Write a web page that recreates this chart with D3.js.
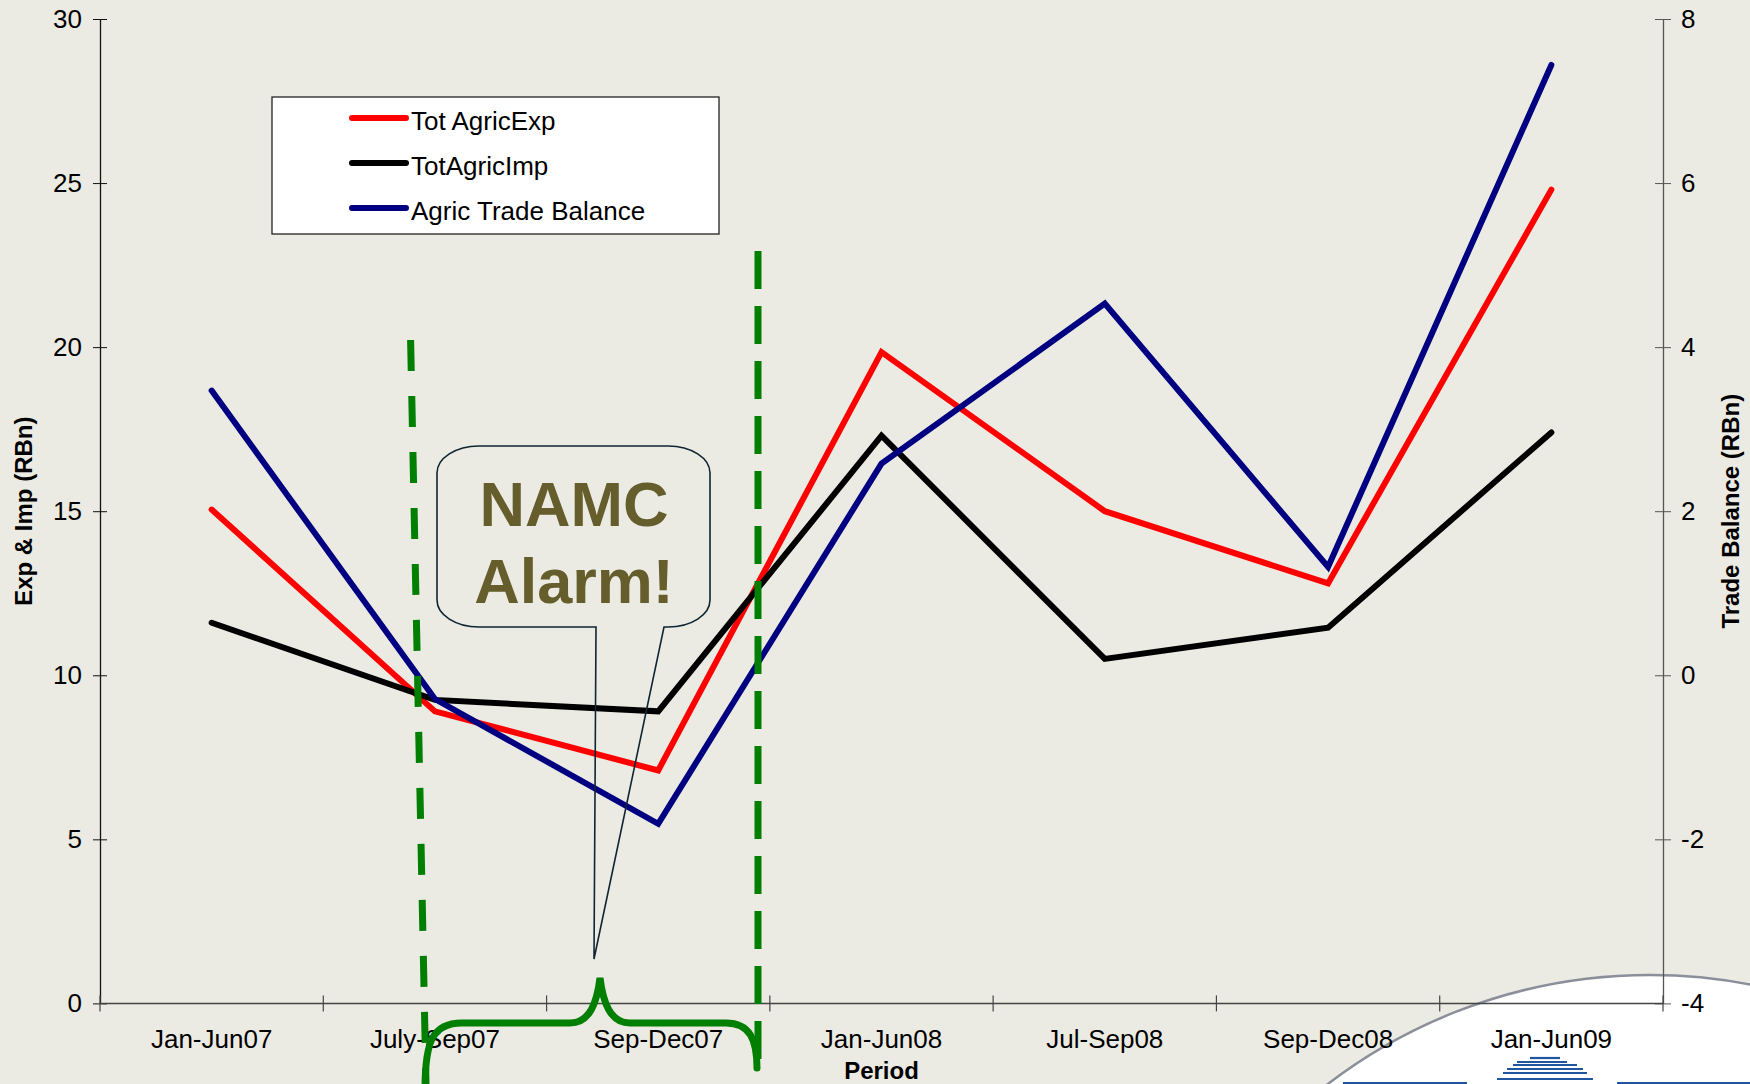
<!DOCTYPE html>
<html>
<head>
<meta charset="utf-8">
<script src="https://cdn.jsdelivr.net/npm/d3@7"></script>
<style>
  body { margin: 0; background: #ebebe3; }
  svg { display: block; font-family: "Liberation Sans", Arial, sans-serif; }
</style>
</head>
<body>
<svg id="chart" width="1750" height="1084"></svg>
<script>
// data
const periods = ["Jan-Jun07", "July-Sep07", "Sep-Dec07", "Jan-Jun08", "Jul-Sep08", "Sep-Dec08", "Jan-Jun09"];
const agricExp = [15.05, 8.9, 7.1, 19.85, 15.0, 12.8, 24.8];
const agricImp = [11.6, 9.25, 8.9, 17.3, 10.5, 11.45, 17.4];
const tradeBalance = [3.47, -0.29, -1.81, 2.58, 4.53, 1.32, 7.44];
const leftTicks = [0, 5, 10, 15, 20, 25, 30];
const rightTicks = [-4, -2, 0, 2, 4, 6, 8];
const seriesNames = ["Tot AgricExp", "TotAgricImp", "Agric Trade Balance"];
const seriesColors = ["#ff0000", "#000000", "#000080"];

const svg = d3.select("#chart");
const W = 1750, H = 1084;
const plotL = 100, plotR = 1663, plotT = 19, plotB = 1003.4;
const fs = 26;

svg.append("rect").attr("width", W).attr("height", H).attr("fill", "#ebebe3");

// scales
const x = d3.scaleBand().domain(periods).range([plotL, plotR]);
const cx = d => x(d) + x.bandwidth() / 2;
const y = d3.scaleLinear().domain([0, 30]).range([plotB, plotT]);
const y2 = d3.scaleLinear().domain([-4, 8]).range([plotB, plotT]);

// logo backdrop in the corner
const logo = svg.append("g");
logo.append("circle")
    .attr("cx", 1650).attr("cy", 1505).attr("r", 530)
    .attr("fill", "#ffffff").attr("stroke", "#8a8f9a").attr("stroke-width", 2.5);
const stripes = [[1058, 1530, 1560], [1062, 1517, 1567], [1065, 1513, 1577], [1069, 1507, 1583], [1073, 1503, 1587], [1079, 1497, 1593]];
logo.selectAll("line.stripe").data(stripes).enter().append("line")
    .attr("x1", d => d[1]).attr("x2", d => d[2])
    .attr("y1", d => d[0]).attr("y2", d => d[0])
    .attr("stroke", "#1f56a0").attr("stroke-width", 2.2);
logo.append("rect").attr("x", 1343).attr("y", 1082).attr("width", 124).attr("height", 4).attr("fill", "#1f56a0");
logo.append("rect").attr("x", 1617).attr("y", 1082).attr("width", 133).attr("height", 4).attr("fill", "#1f56a0");

// left axis
const axisL = svg.append("g").attr("transform", `translate(${plotL},0)`)
    .call(d3.axisLeft(y).tickValues(leftTicks).tickSize(7).tickSizeOuter(0).tickPadding(11).tickFormat(d => String(d)));
axisL.select(".domain").attr("stroke", "#111").attr("stroke-width", 1.3);
axisL.selectAll(".tick line").attr("x1", 7).attr("stroke", "#111");
axisL.selectAll("text").attr("font-size", fs).attr("fill", "#000").attr("font-family", "Liberation Sans, Arial");

// right axis
const axisR = svg.append("g").attr("transform", `translate(${plotR},0)`)
    .call(d3.axisRight(y2).tickValues(rightTicks).tickSize(8).tickSizeOuter(0).tickPadding(10).tickFormat(d => String(d)));
axisR.select(".domain").attr("stroke", "#555").attr("stroke-width", 1.3);
axisR.selectAll(".tick line").attr("x1", -8).attr("stroke", "#555");
axisR.selectAll("text").attr("font-size", fs).attr("fill", "#000").attr("font-family", "Liberation Sans, Arial");

// x axis
const axisX = svg.append("g").attr("transform", `translate(0,${plotB})`)
    .call(d3.axisBottom(x).tickSize(0).tickPadding(26));
axisX.select(".domain").remove();
axisX.selectAll("text").attr("font-size", fs).attr("fill", "#000").attr("font-family", "Liberation Sans, Arial");
axisX.append("line").attr("x1", plotL).attr("x2", plotR).attr("stroke", "#444").attr("stroke-width", 1.5);
axisX.selectAll("line.bound")
    .data(periods.map(p => x(p)).concat([plotR])).enter()
    .append("line").attr("class", "bound")
    .attr("x1", d => d).attr("x2", d => d)
    .attr("y1", -8).attr("y2", 8)
    .attr("stroke", "#444").attr("stroke-width", 1.2);

// axis titles
svg.append("text").attr("x", (plotL + plotR) / 2).attr("y", 1079)
    .attr("text-anchor", "middle").attr("font-weight", "bold").attr("font-size", 24).text("Period");
svg.append("text").attr("transform", `translate(32,${(plotT + plotB) / 2}) rotate(-90)`)
    .attr("text-anchor", "middle").attr("font-weight", "bold").attr("font-size", 24).text("Exp & Imp (RBn)");
svg.append("text").attr("transform", `translate(1739,${(plotT + plotB) / 2}) rotate(-90)`)
    .attr("text-anchor", "middle").attr("font-weight", "bold").attr("font-size", 24).text("Trade Balance (RBn)");

// series lines
const lineL = d3.line().x((d, i) => cx(periods[i])).y(d => y(d));
const lineR = d3.line().x((d, i) => cx(periods[i])).y(d => y2(d));
const series = [
  {vals: agricExp, gen: lineL, color: seriesColors[0]},
  {vals: agricImp, gen: lineL, color: seriesColors[1]},
  {vals: tradeBalance, gen: lineR, color: seriesColors[2]}
];
svg.append("g").selectAll("path").data(series).enter().append("path")
    .attr("d", d => d.gen(d.vals))
    .attr("fill", "none")
    .attr("stroke", d => d.color)
    .attr("stroke-width", 6)
    .attr("stroke-linejoin", "miter")
    .attr("stroke-linecap", "round");

// legend
const leg = svg.append("g");
leg.append("rect").attr("x", 272).attr("y", 97).attr("width", 447).attr("height", 137)
    .attr("fill", "#ffffff").attr("stroke", "#222").attr("stroke-width", 1.3);
const legRows = leg.selectAll("g.row").data(seriesNames).enter().append("g")
    .attr("transform", (d, i) => `translate(0,${118 + i * 45})`);
legRows.append("line").attr("x1", 352).attr("x2", 406).attr("y1", 0).attr("y2", 0)
    .attr("stroke", (d, i) => seriesColors[i]).attr("stroke-width", 6).attr("stroke-linecap", "round");
legRows.append("text").attr("x", 411).attr("y", 12).attr("font-size", fs).text(d => d);

// green markers: dashed lines and brace
const green = "#007f00";
svg.append("line").attr("x1", 410.6).attr("y1", 340).attr("x2", 426).attr("y2", 1084)
    .attr("stroke", green).attr("stroke-width", 7).attr("stroke-dasharray", "31 25");
svg.append("line").attr("x1", 758).attr("y1", 251).attr("x2", 758).attr("y2", 1067)
    .attr("stroke", green).attr("stroke-width", 7).attr("stroke-dasharray", "38 17");
svg.append("path")
    .attr("d", "M425,1090 C425,1042 432,1023 462,1023 L570,1023 C590,1023 597,1002 600,978 C603,1002 610,1023 630,1023 L726,1023 C750,1023 757,1040 757,1068")
    .attr("fill", "none").attr("stroke", green).attr("stroke-width", 7).attr("stroke-linecap", "round");

// callout
const L = 437, R = 710, T = 446, B = 627, rx = 42, ry = 27;
svg.append("path")
    .attr("d", `M${L + rx},${T} L${R - rx},${T} A${rx},${ry} 0 0 1 ${R},${T + ry} L${R},${B - ry} A${rx},${ry} 0 0 1 ${R - rx},${B} L664,${B} L594,959 L596,${B} L${L + rx},${B} A${rx},${ry} 0 0 1 ${L},${B - ry} L${L},${T + ry} A${rx},${ry} 0 0 1 ${L + rx},${T} Z`)
    .attr("fill", "none").attr("stroke", "#0f2533").attr("stroke-width", 1.6);
svg.append("text").attr("x", 574).attr("y", 526).attr("text-anchor", "middle")
    .attr("font-weight", "bold").attr("font-size", 63).attr("fill", "#655d2b").text("NAMC");
svg.append("text").attr("x", 574).attr("y", 603).attr("text-anchor", "middle")
    .attr("font-weight", "bold").attr("font-size", 63).attr("fill", "#655d2b").text("Alarm!");
</script>
</body>
</html>
